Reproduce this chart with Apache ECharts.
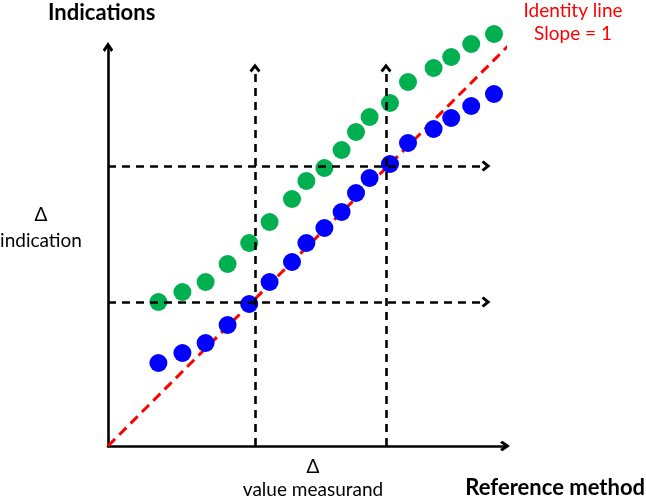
<!DOCTYPE html>
<html>
<head>
<meta charset="utf-8">
<script src="https://cdn.jsdelivr.net/npm/echarts@6/dist/echarts.min.js"></script>
<style>html,body{margin:0;padding:0;background:#fff;}#c{width:646px;height:497px;}</style>
</head>
<body>
<div id="c"></div>
<script>
// Reference method values (x)
const refValues = [12.6, 18.6, 24.4, 29.9, 35.3, 40.4, 46.0, 49.6, 54.1, 58.4, 62.0, 65.4, 70.5, 75.0, 81.4, 85.8, 90.8, 96.5];
// Green series: biased indications
const greenIndications = [36, 38.5, 41, 45.5, 50.75, 56, 61.75, 66.25, 69.5, 74, 78.5, 82.25, 85.75, 91, 94.5, 97.25, 100.5, 103];
// Blue series: indications on the identity line
const blueIndications = [20.75, 23.25, 25.75, 30.25, 35.5, 41, 46, 50.75, 54.5, 58.5, 63.25, 67, 70.5, 75.75, 79.25, 82, 85, 88];
// Identity line end points
const identityX = [0, 101];
// Dashed guide lines
const guideX = [36.75, 69.5];       // vertical guides (value measurand)
const guideY = [36, 70];            // horizontal guides (indication)
const guideXTop = 94.5;
const guideYRight = 94.5;

const chevron = 'path://M5,0 L10,7.4 L8.1,9.6 L5,5 L1.9,9.6 L0,7.4 Z';

const chart = echarts.init(document.getElementById('c'), null, {renderer: 'canvas'});

const markLines = [];
guideX.forEach(x => markLines.push([{coord: [x, 0], symbol: 'none'}, {coord: [x, guideXTop], symbol: chevron}]));
guideY.forEach(y => markLines.push([{coord: [0, y], symbol: 'none'}, {coord: [guideYRight, y], symbol: chevron}]));

const axisCommon = {
  type: 'value', min: 0,
  axisLine: {show: true, symbol: ['none', chevron], symbolSize: [13, 10], lineStyle: {color: '#000', width: 2.6}},
  axisTick: {show: false}, axisLabel: {show: false}, splitLine: {show: false}
};

chart.setOption({
  animation: false,
  grid: {left: 108, right: 141, top: 47, bottom: 51},
  xAxis: Object.assign({}, axisCommon, {max: 99.25}),
  yAxis: Object.assign({}, axisCommon, {max: 99.75}),
  series: [
    {
      type: 'line', z: 1, clip: false, symbol: 'none',
      data: identityX.map(v => [v, v]),
      lineStyle: {color: '#ff0000', width: 3, type: [10, 6]}
    },
    {
      type: 'scatter', z: 2, clip: false, symbolSize: 18,
      data: refValues.map((x, i) => [x, greenIndications[i]]),
      itemStyle: {color: '#00b050', opacity: 1}
    },
    {
      type: 'scatter', z: 2, clip: false, symbolSize: 18,
      data: refValues.map((x, i) => [x, blueIndications[i]]),
      itemStyle: {color: '#0000ff', opacity: 1}
    },
    {
      type: 'line', z: 3, data: [], symbol: 'none',
      markLine: {
        silent: true, animation: false, symbolSize: [11, 9],
        label: {show: false},
        lineStyle: {color: '#000', width: 2.6, type: [8, 6]},
        data: markLines
      }
    }
  ],
  graphic: [
    {type: 'text', left: 48, top: 2, style: {text: 'Indications', font: 'bold 22px Lato', fill: '#000'}},
    {type: 'text', x: 573, y: -1, style: {text: 'Identity line\nSlope = 1', font: '19px Lato', fill: '#ff0000', align: 'center', lineHeight: 23}},
    {type: 'text', x: 41, y: 202, style: {text: 'Δ\nindication', font: '19px Lato', fill: '#000', align: 'center', lineHeight: 26}},
    {type: 'text', x: 313, y: 455, style: {text: 'Δ\nvalue measurand', font: '19px Lato', fill: '#000', align: 'center', lineHeight: 23}},
    {type: 'text', right: 1, top: 477, style: {text: 'Reference method', font: 'bold 22px Lato', fill: '#000'}}
  ]
});
</script>
</body>
</html>
